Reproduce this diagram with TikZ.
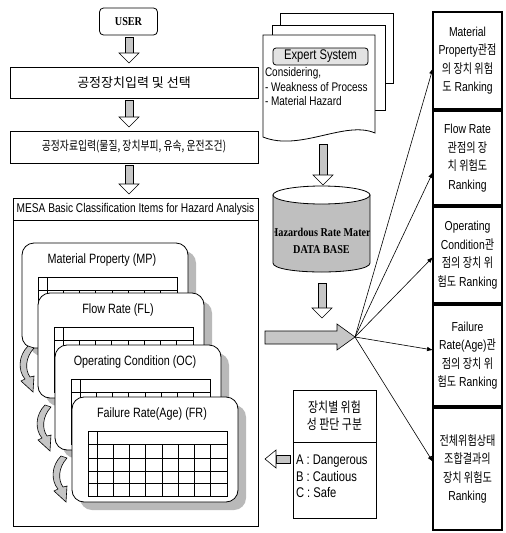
\documentclass[tikz,border=0pt]{standalone}
\usepackage{fontspec}
\setmainfont{Liberation Sans}[FakeStretch=0.8]
\newfontfamily\kr{Noto Sans CJK KR}
\newfontfamily\krn{Noto Sans CJK KR}[FakeStretch=0.78]
\newfontfamily\dbfont{Liberation Serif}[FakeStretch=0.85]
\usetikzlibrary{arrows.meta,calc}
\tikzset{
  every node/.style={inner sep=0pt, outer sep=0pt},
  flowbox/.style={draw, line width=0.8pt, minimum width=248pt, minimum height=31pt},
  rbox/.style={draw, line width=1.5pt, minimum width=69pt, align=center, font=\fontsize{13}{18.5}\selectfont},
  fanline/.style={line width=0.6pt, -{Latex[length=6pt,width=4.5pt]}},
  cardtitle/.style={font=\fontsize{13.5}{15}\selectfont},
  blockfill/.style={fill=gray!45, line width=0.6pt},
}
\newcommand\vflow[3]{%
  \draw[blockfill] let \p1=#1, \p2=#2, \p3=#3 in (\x1-4pt,\y2-2pt) rectangle (\x1+4pt,\y3+14pt);
  \draw[fill=white, line width=0.6pt] let \p1=#1, \p2=#2, \p3=#3 in (\x1-10pt,\y3+14pt) -- (\x1+10pt,\y3+14pt) -- (\x1,\y3+4pt) -- cycle;
}
\newcommand\mycard[4]{%
  \fill[gray!55, rounded corners=12pt] (#1+8,#2+8) rectangle (#1+174,#2+113);
  \draw[fill=white, line width=0.8pt, rounded corners=12pt] (#1,#2) rectangle (#1+166,#2+105);
  \node[cardtitle] (#4) at (#1+80,#2+17) {#3};
  \draw[line width=0.6pt] (#1+16,#2+34) rectangle (#1+155,#2+99);
  \draw[line width=0.6pt] (#1+25,#2+34) -- (#1+25,#2+99);
  \foreach \yy in {47,61,74,86} {\draw[line width=0.6pt] (#1+16,#2+\yy) -- (#1+155,#2+\yy);}
  \foreach \ii in {1,...,7} {\draw[line width=0.6pt] (#1+25+16.25*\ii,#2+47) -- (#1+25+16.25*\ii,#2+99);}
}
\newcommand\curly[2]{%
  \begin{scope}[shift={(#1,#2)}]
    \draw[blockfill] (0,0) .. controls (-10,10) and (-10,25) .. (-3,33) -- (-7,35) -- (5,46) -- (6,30) -- (2,31) .. controls (-3,24) and (-3,12) .. (6,2) -- cycle;
  \end{scope}}
\begin{document}
\begin{tikzpicture}[x=1pt,y=-1pt,line width=0.8pt]
\useasboundingbox (0,0) rectangle (506,533);
\fill[white] (0,0) rectangle (506,533);

% ---------- left flow ----------
\node[draw, rounded corners=4pt, minimum width=58pt, minimum height=27pt, font=\dbfont\bfseries\fontsize{12}{14}\selectfont] (user) at (128.5,21.5) {USER};
\node[flowbox] (b1) at (134,82.5) {\kr\fontsize{13}{15}\selectfont 공정장치입력 및 선택};
\node[flowbox, minimum height=32pt] (b2) at (134,147) {\krn\fontsize{12.6}{14}\selectfont 공정자료입력(물질, 장치부피, 유속, 운전조건)};
\node[draw, minimum width=245pt, minimum height=328pt] (mesabox) at (135.5,362) {};
\node[draw, minimum width=245pt, minimum height=22pt, font=\fontsize{12.7}{14}\selectfont] (mesa) at (135.5,209) {MESA Basic Classification Items for Hazard Analysis};
\coordinate (fx) at (129,0);
\vflow{(fx)}{(user.south)}{(b1.north)}
\vflow{(fx)}{(b1.south)}{(b2.north)}
\vflow{(fx)}{(b2.south)}{(mesa.north)}

% ---------- cards ----------
\mycard{22}{243}{Material Property (MP)}{tmp}
\mycard{38}{293}{Flow Rate (FL)}{tfl}
\mycard{55}{345}{Operating Condition (OC)}{toc}
\mycard{72}{397}{Failure Rate(Age) (FR)}{tfr}
\curly{28}{346}
\curly{45}{405}
\curly{61}{456}

% ---------- expert system document ----------
\draw[fill=white] (280,13) rectangle (393,83);
\draw[fill=white] (272,25) rectangle (385,110);
\draw[fill=white] (263,35) -- (375,35) -- (375,133) .. controls (345,120) and (300,152) .. (263,137) -- cycle;
\node[draw, rounded corners=3pt, fill=gray!22, minimum width=95pt, minimum height=17pt, font=\fontsize{14}{16}\selectfont] (expert) at (320.5,56.5) {Expert System};
\node[anchor=west, font=\fontsize{12.5}{14}\selectfont] (cons) at (265,73) {Considering,};
\node[anchor=west, font=\fontsize{12.5}{14}\selectfont] (weak) at (265,87) {- Weakness of Process};
\node[anchor=west, font=\fontsize{12.5}{14}\selectfont] (mhaz) at (265,101) {- Material Hazard};

% ---------- database ----------
\draw[fill=gray!50] (273,195) -- (273,263) .. controls (273,275) and (370,275) .. (370,263) -- (370,195) -- cycle;
\draw[fill=white] (321.5,195) ellipse [x radius=48.5, y radius=9];
\begin{scope}
  \clip (274,205) rectangle (369,272);
  \node[font=\dbfont\bfseries\fontsize{12}{14}\selectfont] (dbt1) at (326,232) {Hazardous Rate Material};
\end{scope}
\node[font=\dbfont\bfseries\fontsize{12}{14}\selectfont] (dbt2) at (321.5,250) {DATA BASE};
\coordinate (dx) at (323,0);
\coordinate (docbot) at (323,142);
\coordinate (dbtop) at (323,189);
\vflow{(dx)}{(docbot)}{(dbtop)}
\coordinate (dx2) at (322,0);
\coordinate (dbbot) at (322,281);
\coordinate (bigtop) at (322,322);
\vflow{(dx2)}{(dbbot)}{(bigtop)}

% ---------- big arrow ----------
\draw[blockfill] (265,331) -- (337,331) -- (337,324) -- (355,337) -- (337,350) -- (337,344) -- (265,344) -- cycle;
\coordinate (fan) at (355,337);

% ---------- right column ----------
\node[rbox, minimum height=97pt] (rmp) at (467.5,60.5) {Material\\Property{\krn 관점}\\{\krn 의 장치 위험}\\{\krn 도} Ranking};
\node[rbox, minimum height=94pt] (rfl) at (467.5,158) {Flow Rate\\{\krn 관점의 장}\\{\krn 치 위험도}\\Ranking};
\node[rbox, minimum height=96pt] (roc) at (467.5,255) {Operating\\Condition{\krn 관}\\{\krn 점의 장치 위}\\{\krn 험도} Ranking};
\node[rbox, minimum height=101pt] (rfr) at (467.5,355.5) {Failure\\Rate(Age){\krn 관}\\{\krn 점의 장치 위}\\{\krn 험도} Ranking};
\node[rbox, minimum height=122pt] (rtot) at (467.5,469) {{\krn 전체위험상태}\\{\krn 조합결과의}\\{\krn 장치 위험도}\\Ranking};

\draw[fanline] (fan) -- ([yshift=-7.5pt]rmp.west);
\draw[fanline] (fan) -- ([yshift=-14pt]rfl.west);
\draw[fanline] (fan) -- ([yshift=-2pt]roc.west);
\draw[fanline] (fan) -- ([yshift=5.5pt]rfr.west);
\draw[fanline] (fan) -- ([yshift=7pt]rtot.west);

% ---------- judgement box ----------
\node[draw, minimum width=83pt, minimum height=52pt, align=center, font=\krn\fontsize{14}{17}\selectfont] (jtop) at (334.5,416) {장치별 위험\\성 판단 구분};
\node[draw, minimum width=83pt, minimum height=76pt, anchor=north] (jbot) at (jtop.south) {};
\node[anchor=west, align=left, font=\fontsize{14}{16.5}\selectfont] (jtext) at (296,476.5) {A : Dangerous\\B : Cautious\\C : Safe};
\draw[blockfill] (276,455) rectangle (290,463);
\draw[fill=white, line width=0.6pt] (276,450) -- (276,468) -- (265,459) -- cycle;
\end{tikzpicture}
\end{document}
